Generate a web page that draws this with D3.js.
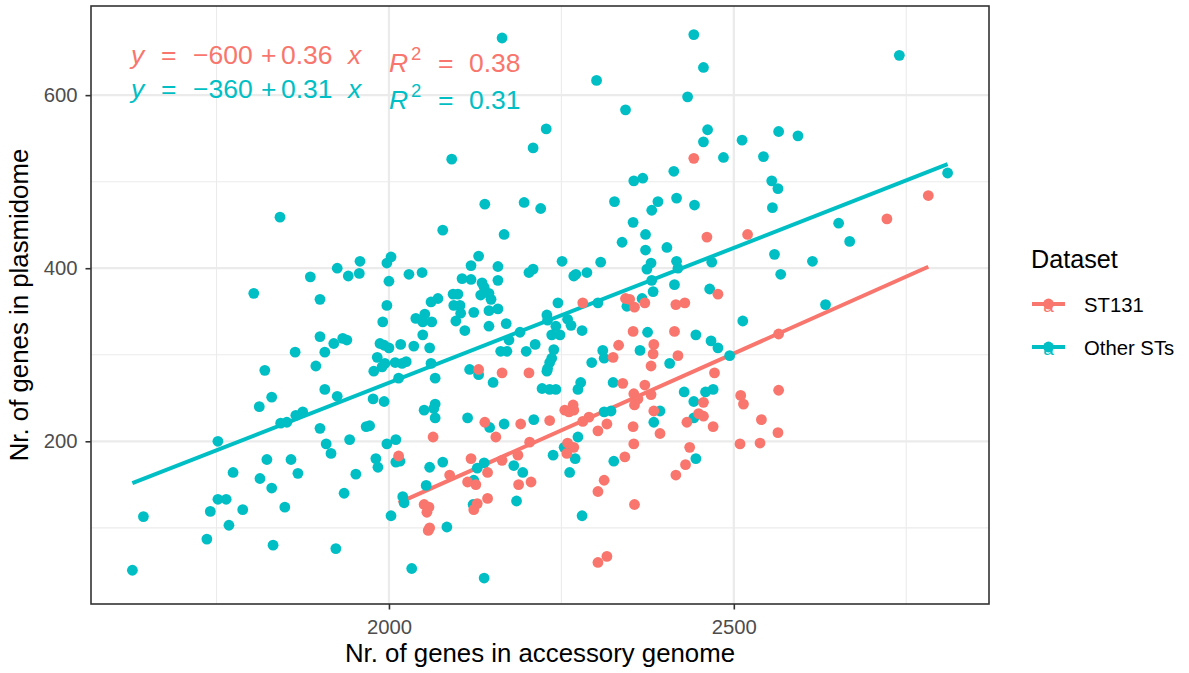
<!DOCTYPE html>
<html>
<head>
<meta charset="utf-8">
<script src="https://cdn.jsdelivr.net/npm/d3@7"></script>
<style>
  body { margin: 0; background: #fff; }
  svg { display: block; font-family: "Liberation Sans", Arial, Helvetica, sans-serif; }
</style>
</head>
<body>
<div id="chart"></div>
<script>
// Accessory genome size (x) vs plasmidome size (y)
var otherX = [
	2164,2301,2343,2433,2442,2228,2209,2091,2355,2368,
	2413,2139,2196,2220,2327,2381,2390,2417,2456,2740,
	2462,2456,2485,2512,2543,2565,2593,2555,2564,2443,
	2556,2810,2652,2668,2559,2614,2568,2468,2465,2633,
	2513,2445,2467,2477,2494,2459,2470,2442,2442,2445,
	1842,1804,1886,1900,1925,1941,1958,1957,1997,2000,
	1997,1991,1900,1920,1933,1939,1864,1907,1987,1993,
	2000,1983,1994,1990,1978,1894,1820,1907,1925,1830,
	1812,1977,1993,2003,1843,1852,1865,1875,1900,1967,
	1972,1752,1909,1916,1943,1997,1981,1984,1823,1858,
	1774,1813,1868,1830,1952,1935,1752,1764,1741,1788,
	1849,1644,1768,2003,1736,1832,1923,1628,2078,2167,
	2354,2372,2338,2372,2403,2130,2119,2158,2251,2307,
	2380,2374,2417,2419,2029,2048,2106,2119,2158,2203,
	2209,2268,2271,2287,2135,2138,2133,2145,2148,2381,
	2383,2414,2093,2100,2071,2061,2094,2103,2104,2097,
	2123,2145,2158,2245,2303,2345,2367,2039,2052,2049,
	2062,2049,2110,2145,2170,2229,2230,2259,2264,2280,
	2242,2190,2236,2248,2174,2017,2036,2059,2162,2171,
	2199,2212,2239,2236,2233,2230,2229,2009,2025,2019,
	2061,2014,2067,2117,2130,2151,2222,2233,2242,2067,
	2294,2310,2312,2364,2375,2407,2278,2274,2325,2428,
	2051,2065,2067,2114,2146,2167,2210,2312,2322,2393,
	2384,2010,2254,2274,2270,2326,2010,2016,2059,2078,
	2138,2128,2181,2194,2238,2262,2123,2054,2020,2022,
	2122,2185,2280,2084,2033,2138
];
var otherY = [
	666,617,583,598,670,561,539,526,501,504,
	512,474,476,469,477,467,477,481,632,646,
	560,546,528,548,529,558,553,501,492,473,
	470,510,452,431,416,408,393,407,376,358,
	339,323,316,308,299,257,260,246,227,180,
	459,371,390,364,400,391,408,394,406,385,
	357,338,321,313,319,317,303,303,313,311,
	308,297,290,286,281,287,282,260,252,251,
	240,249,246,413,221,222,230,234,215,217,
	218,200,197,186,202,197,180,170,179,179,
	164,157,163,146,162,140,133,133,119,121,
	124,113,103,114,87,80,76,51,444,439,
	453,439,430,421,424,414,403,402,408,407,
	406,399,408,400,393,395,388,387,386,395,
	399,391,393,395,383,378,369,371,364,386,
	373,381,370,370,365,361,357,357,348,339,
	349,351,353,360,360,356,365,342,347,338,
	338,323,328,333,336,346,340,341,334,328,
	333,326,323,323,317,312,310,308,304,304,
	304,312,306,296,291,284,281,291,292,290,
	290,273,273,283,277,268,261,260,260,243,
	291,305,296,305,326,290,268,260,268,257,
	236,238,227,227,216,220,225,234,235,235,
	222,202,193,205,180,177,176,177,170,176,
	175,169,172,164,184,164,155,149,136,129,
	127,131,114,101,53,42
];
var st131X = [
	2442,2782,2461,2520,2722,2477,2565,2472,2565,2510,2456,2514,
	2456,2449,2470,2540,2564,2509,2538,
	2281,2343,2349,2356,2371,2416,2429,
	2130,2164,2203,2325,2333,2354,2414,2384,2383,2380,2419,
	2339,2371,2355,2380,2361,2267,
	2139,2191,2233,2255,2268,2261,2290,2281,2356,2384,2303,2316,2354,2393,2432,
	2064,2155,2204,2259,2268,2258,2355,2342,2436,2430,2416,
	2014,2119,2164,2187,2088,2143,2114,2126,2188,2206,2312,2303,
	2051,2058,2055,2128,2123,2143,2356,2057,2059,2303,2316
];
var st131Y = [
	527,484,436,439,457,370,324,279,259,253,245,243,
	229,232,217,225,210,197,198,
	360,365,364,355,360,358,360,
	283,279,279,297,311,327,327,312,301,287,299,
	267,265,255,254,249,242,
	222,220,224,236,236,234,228,223,242,235,212,220,217,209,222,
	205,205,199,198,193,186,197,182,193,173,161,
	183,180,178,184,161,164,153,150,150,153,155,142,
	127,124,118,128,121,134,127,97,100,60,67
];

var groups = ["ST131", "Other STs"];
var colors = ["#F8766D", "#00BFC4"];

// fitted lm lines as drawn, and the printed labels
var fitIntercept = [-587, -356];
var fitSlope = [0.3554, 0.3118];
var eqIntercept = ["\u2212600", "\u2212360"];
var eqSlope = ["0.36", "0.31"];
var r2Labels = ["0.38", "0.31"];

var xTicks = [2000, 2500];
var xMinor = [1750, 2250, 2750];
var yTicks = [200, 400, 600];
var yMinor = [100, 300, 500];

var W = 1189, H = 673;
var panel = {left: 91, right: 989, top: 6, bottom: 604};
var titleSize = 25.8, tickSize = 20.3;

var svg = d3.select("#chart")
	.append("svg")
	.attr("width", W)
	.attr("height", H);

svg.append("rect").attr("width", W).attr("height", H).attr("fill", "#fff");

var x = d3.scaleLinear().domain([1568, 2870]).range([panel.left, panel.right]);
var y = d3.scaleLinear().domain([12, 703]).range([panel.bottom, panel.top]);

// grid
var grid = svg.append("g");
grid.selectAll(".xmin").data(xMinor).enter().append("line")
	.attr("x1", d => x(d)).attr("x2", d => x(d))
	.attr("y1", panel.top).attr("y2", panel.bottom)
	.attr("stroke", "#EBEBEB").attr("stroke-width", 1.1);
grid.selectAll(".ymin").data(yMinor).enter().append("line")
	.attr("y1", d => y(d)).attr("y2", d => y(d))
	.attr("x1", panel.left).attr("x2", panel.right)
	.attr("stroke", "#EBEBEB").attr("stroke-width", 1.1);
grid.selectAll(".xmaj").data(xTicks).enter().append("line")
	.attr("x1", d => x(d)).attr("x2", d => x(d))
	.attr("y1", panel.top).attr("y2", panel.bottom)
	.attr("stroke", "#EBEBEB").attr("stroke-width", 2.2);
grid.selectAll(".ymaj").data(yTicks).enter().append("line")
	.attr("y1", d => y(d)).attr("y2", d => y(d))
	.attr("x1", panel.left).attr("x2", panel.right)
	.attr("stroke", "#EBEBEB").attr("stroke-width", 2.2);

var series = [
	{xs: st131X, ys: st131Y},
	{xs: otherX, ys: otherY}
];

// regression lines over each group's x range
series.forEach(function(s, i) {
	var ext = d3.extent(s.xs);
	svg.append("path")
		.datum(ext)
		.attr("fill", "none")
		.attr("stroke", colors[i])
		.attr("stroke-width", 4)
		.attr("d", d3.line()
			.x(function(d) { return x(d) })
			.y(function(d) { return y(fitIntercept[i] + fitSlope[i] * d) })
		);
});

// points: other STs first, ST131 on top
[1, 0].forEach(function(i) {
	var s = series[i];
	var pts = s.xs.map(function(v, k) { return {x: v, y: s.ys[k]}; });
	svg.append("g").selectAll("circle")
		.data(pts).enter().append("circle")
		.attr("cx", d => x(d.x))
		.attr("cy", d => y(d.y))
		.attr("r", 5.4)
		.attr("fill", colors[i]);
});

// equation labels
var eqSize = 26.5;
var eqBase = [64, 98];
var r2Base = [72, 109];
groups.forEach(function(g, i) {
	var t = svg.append("text")
		.attr("fill", colors[i])
		.attr("font-size", eqSize)
		.attr("y", eqBase[i]);
	t.append("tspan").attr("x", 131).attr("font-style", "italic").text("y");
	t.append("tspan").attr("x", 161).text("=");
	t.append("tspan").attr("x", 193).text(eqIntercept[i]);
	t.append("tspan").attr("x", 261).text("+");
	t.append("tspan").attr("x", 281).text(eqSlope[i]);
	t.append("tspan").attr("x", 348).attr("font-style", "italic").text("x");

	var r = svg.append("text")
		.attr("fill", colors[i])
		.attr("font-size", eqSize)
		.attr("y", r2Base[i]);
	r.append("tspan").attr("x", 389).attr("font-style", "italic").text("R");
	r.append("tspan").attr("x", 411).attr("dy", -12).attr("font-size", 18.5).text("2");
	r.append("tspan").attr("x", 438).attr("dy", 12).text("=");
	r.append("tspan").attr("x", 469).text(r2Labels[i]);
});

// panel border
svg.append("rect")
	.attr("x", panel.left).attr("y", panel.top)
	.attr("width", panel.right - panel.left)
	.attr("height", panel.bottom - panel.top)
	.attr("fill", "none")
	.attr("stroke", "#333333")
	.attr("stroke-width", 1.6);

// axes
var xAxis = svg.append("g")
	.attr("transform", "translate(0," + panel.bottom + ")")
	.call(d3.axisBottom(x).tickValues(xTicks).tickSize(5.5).tickPadding(10).tickFormat(d3.format("d")));
var yAxis = svg.append("g")
	.attr("transform", "translate(" + panel.left + ",0)")
	.call(d3.axisLeft(y).tickValues(yTicks).tickSize(5.5).tickPadding(8).tickFormat(d3.format("d")));
[xAxis, yAxis].forEach(function(a) {
	a.select(".domain").remove();
	a.selectAll(".tick line").attr("stroke", "#333333").attr("stroke-width", 1.6);
	a.selectAll(".tick text")
		.attr("fill", "#4D4D4D")
		.attr("font-size", tickSize)
		.attr("font-family", "Liberation Sans, Arial, sans-serif");
});

// axis titles
svg.append("text")
	.attr("x", (panel.left + panel.right) / 2)
	.attr("y", 662)
	.attr("text-anchor", "middle")
	.attr("font-size", titleSize)
	.text("Nr. of genes in accessory genome");
svg.append("text")
	.attr("transform", "translate(28," + (panel.top + panel.bottom) / 2 + ") rotate(-90)")
	.attr("text-anchor", "middle")
	.attr("font-size", titleSize)
	.text("Nr. of genes in plasmidome");

// legend
var legend = svg.append("g");
legend.append("text")
	.attr("x", 1031).attr("y", 268)
	.attr("font-size", 25.2)
	.text("Dataset");
var keyY = [304, 347];
groups.forEach(function(g, i) {
	var k = legend.append("g").attr("transform", "translate(0," + keyY[i] + ")");
	k.append("line")
		.attr("x1", 1032).attr("x2", 1065)
		.attr("stroke", colors[i]).attr("stroke-width", 4);
	k.append("circle")
		.attr("cx", 1048.5).attr("cy", 0).attr("r", 5.4)
		.attr("fill", colors[i]);
	k.append("text")
		.attr("x", 1048.5).attr("y", 8)
		.attr("text-anchor", "middle")
		.attr("font-size", 19)
		.attr("fill", colors[i])
		.text("a");
	k.append("text")
		.attr("x", 1084).attr("y", 8)
		.attr("font-size", tickSize)
		.text(g);
});
</script>
</body>
</html>
